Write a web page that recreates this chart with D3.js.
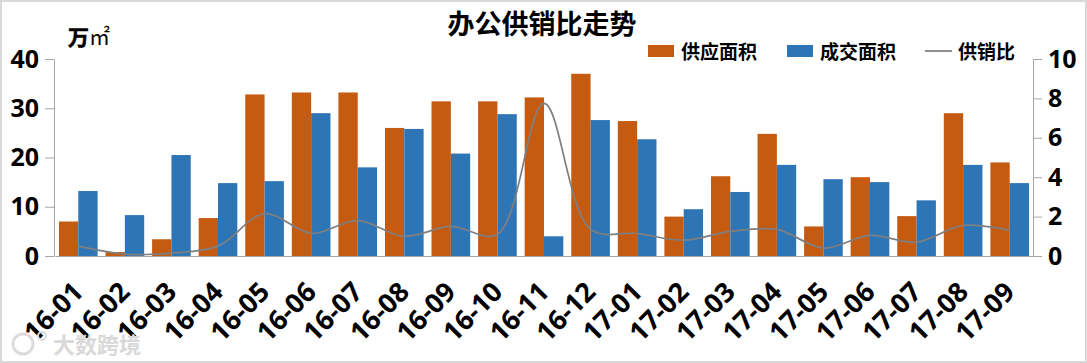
<!DOCTYPE html>
<html>
<head>
<meta charset="utf-8">
<script src="https://cdn.jsdelivr.net/npm/d3@7"></script>
<style>
  html, body { margin: 0; padding: 0; background: #fff; }
  svg { display: block; }
  text { font-family: "Noto Sans CJK SC", "Noto Sans", sans-serif; font-weight: 700; fill: #000; }
  .tick text { font-family: "Noto Sans", "Noto Sans CJK SC", sans-serif; font-size: 25px; }
</style>
</head>
<body>
<svg id="chart" width="1087" height="363"></svg>
<script>
"use strict";

const months = ["16-01", "16-02", "16-03", "16-04", "16-05", "16-06", "16-07", "16-08", "16-09", "16-10", "16-11", "16-12", "17-01", "17-02", "17-03", "17-04", "17-05", "17-06", "17-07", "17-08", "17-09"];
const supply = [7, 0.8, 3.4, 7.7, 32.8, 33.2, 33.2, 26, 31.4, 31.4, 32.2, 37, 27.4, 8, 16.2, 24.8, 6, 16, 8.1, 29, 19];
const deals = [13.2, 8.3, 20.5, 14.8, 15.2, 29, 18, 25.8, 20.8, 28.8, 4, 27.6, 23.7, 9.5, 13, 18.5, 15.6, 15, 11.3, 18.5, 14.8];
const ratio = [0.5, 0.1, 0.15, 0.5, 2.15, 1.15, 1.8, 1.0, 1.5, 1.1, 7.75, 1.35, 1.15, 0.8, 1.25, 1.35, 0.4, 1.05, 0.7, 1.55, 1.3];
const leftTicks = [0, 10, 20, 30, 40];
const rightTicks = [0, 2, 4, 6, 8, 10];
const legendItems = ["供应面积", "成交面积", "供销比"];

const orange = "#c55a11";
const blue = "#2e75b6";
const gray = "#7f7f7f";

const svg = d3.select("#chart");

// 外框
svg.append("rect")
  .attr("x", 1).attr("y", 1).attr("width", 1085).attr("height", 361)
  .attr("fill", "none").attr("stroke", "#d9d9d9").attr("stroke-width", 2);

const xScale = d3.scaleBand().domain(months).range([55, 1033]).paddingInner(0.17).paddingOuter(0.085);
const yLeft = d3.scaleLinear().domain([0, 40]).range([256, 59]);
const yRight = d3.scaleLinear().domain([0, 10]).range([256, 59]);

// 柱子
const barW = xScale.bandwidth() / 2;
svg.append("g").selectAll("rect")
  .data(supply)
  .join("rect")
  .attr("x", (d, i) => xScale(months[i]))
  .attr("y", (d) => yLeft(d))
  .attr("width", barW)
  .attr("height", (d) => yLeft(0) - yLeft(d))
  .attr("fill", orange);

svg.append("g").selectAll("rect")
  .data(deals)
  .join("rect")
  .attr("x", (d, i) => xScale(months[i]) + barW)
  .attr("y", (d) => yLeft(d))
  .attr("width", barW)
  .attr("height", (d) => yLeft(0) - yLeft(d))
  .attr("fill", blue);

// 供销比曲线
const ratioLine = d3.line()
  .x((d, i) => xScale(months[i]) + xScale.bandwidth() / 2)
  .y((d) => yRight(d))
  .curve(d3.curveCatmullRom);

svg.append("path")
  .attr("d", ratioLine(ratio))
  .attr("fill", "none")
  .attr("stroke", gray)
  .attr("stroke-width", 1.75);

// 축
function styleAxis(g) {
  g.selectAll("path, line").attr("stroke", "#a6a6a6").attr("stroke-width", 1);
  g.selectAll("text").attr("fill", "#000");
}

svg.append("g")
  .attr("transform", "translate(54,0)")
  .call(d3.axisLeft(yLeft).tickValues(leftTicks).tickSize(9).tickSizeOuter(9).tickPadding(6))
  .call(styleAxis);

svg.append("g")
  .attr("transform", "translate(1033,0)")
  .call(d3.axisRight(yRight).tickValues(rightTicks).tickSize(9).tickSizeOuter(9).tickPadding(6))
  .call(styleAxis);

const xAxisG = svg.append("g")
  .attr("transform", "translate(0,256)")
  .call(d3.axisBottom(xScale).tickSize(0))
  .call(styleAxis);

xAxisG.selectAll("text")
  .style("font-size", "27px")
  .attr("text-anchor", "end")
  .attr("x", 0)
  .attr("y", 0)
  .attr("dy", "0.35em")
  .attr("transform", "translate(0,31) rotate(-45)");

// 제목, 단위
svg.append("text")
  .attr("x", 542).attr("y", 34)
  .attr("text-anchor", "middle")
  .style("font-size", "27px")
  .text("办公供销比走势");

svg.append("text")
  .attr("x", 68).attr("y", 45)
  .style("font-size", "21px")
  .style("stroke", "#000")
  .style("stroke-width", 0.6)
  .text("万");

svg.append("text")
  .attr("x", 89).attr("y", 44)
  .style("font-size", "21px")
  .style("font-weight", 400)
  .text("㎡");

// 범례
const legendX = [648, 787, 925];
const legendText = [681, 820, 958];
legendItems.forEach((name, i) => {
  if (i < 2) {
    svg.append("rect")
      .attr("x", legendX[i]).attr("y", 45)
      .attr("width", 26).attr("height", 12)
      .attr("fill", i === 0 ? orange : blue);
  } else {
    svg.append("line")
      .attr("x1", legendX[i]).attr("x2", legendX[i] + 27)
      .attr("y1", 51).attr("y2", 51)
      .attr("stroke", gray).attr("stroke-width", 1.75);
  }
  svg.append("text")
    .attr("x", legendText[i]).attr("y", 59)
    .style("font-size", "19px")
    .text(name);
});

// 水印
svg.append("text")
  .attr("x", 53).attr("y", 353)
  .style("font-size", "22px")
  .style("fill", "#d9d9d9")
  .text("大数跨境");
svg.append("circle")
  .attr("cx", 23).attr("cy", 344).attr("r", 10)
  .attr("fill", "none").attr("stroke", "#dcdcdc").attr("stroke-width", 3);
svg.append("circle")
  .attr("cx", 42).attr("cy", 336).attr("r", 4)
  .attr("fill", "none").attr("stroke", "#dcdcdc").attr("stroke-width", 2);
</script>
</body>
</html>
